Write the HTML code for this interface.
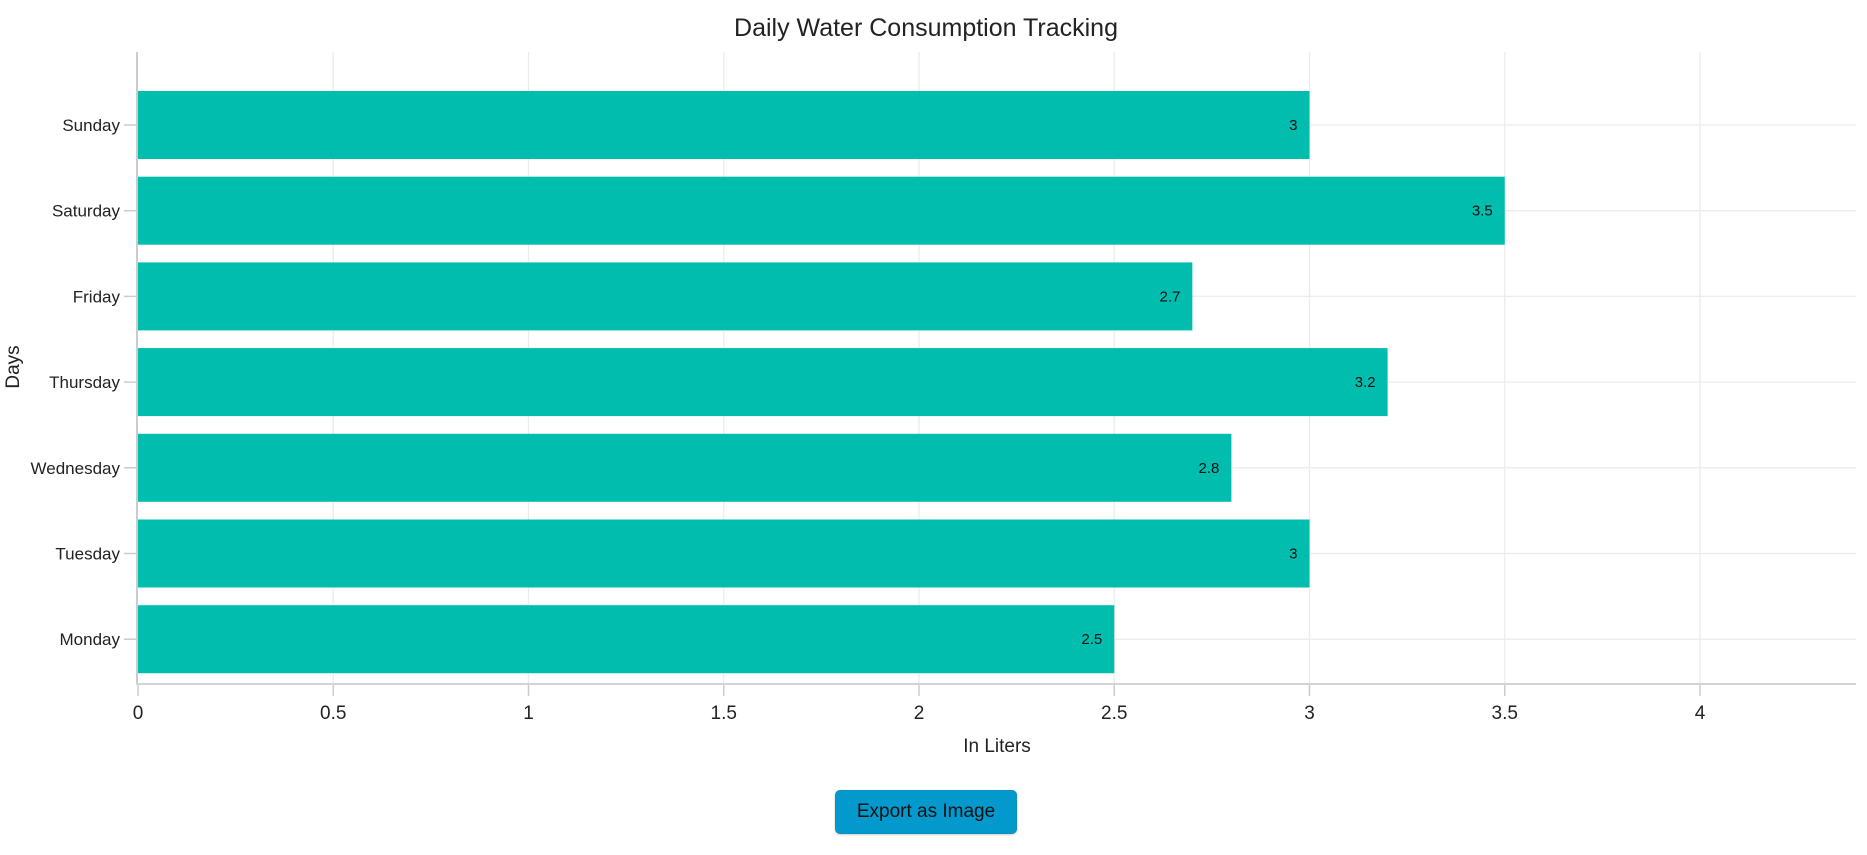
<!DOCTYPE html>
<html><head><meta charset="utf-8"><style>
html,body{margin:0;padding:0;background:#fff;width:1867px;height:855px;overflow:hidden;font-family:"Liberation Sans",sans-serif;}
#btn{position:absolute;left:835px;top:790px;width:182px;height:44px;background:#0399cc;border:1px solid #0a8fbf;border-radius:5px;box-sizing:border-box;color:#111;font-size:19px;line-height:42px;text-align:center;box-shadow:0 1px 2px rgba(0,0,0,.2);}
</style></head><body>
<svg id="chart" width="1867" height="855" style="position:absolute;left:0;top:0">
<text x="926" y="36" font-size="25" text-anchor="middle" fill="#222">Daily Water Consumption Tracking</text>
<g id="grid"></g><g id="bars"></g><g id="axes"></g>
<text x="997" y="752" font-size="19" text-anchor="middle" fill="#222">In Liters</text>
<text transform="translate(19,367) rotate(-90)" font-size="19" text-anchor="middle" fill="#222">Days</text>
</svg>
<div id="btn">Export as Image</div>
<script>
const days=["Sunday","Saturday","Friday","Thursday","Wednesday","Tuesday","Monday"];
const liters=[3,3.5,2.7,3.2,2.8,3,2.5];
const xTicks=[0,0.5,1,1.5,2,2.5,3,3.5,4];
const NS="http://www.w3.org/2000/svg";
const X0=138,UNIT=390.5,TOP=52,BOTTOM=684,RIGHT=1856,Y0=125,PITCH=85.7,BH=68;
const xs=v=>X0+v*UNIT, yc=i=>Y0+i*PITCH;
function mk(t,a,p){const e=document.createElementNS(NS,t);for(const k in a)e.setAttribute(k,a[k]);p.appendChild(e);return e;}
const grid=document.getElementById('grid'),bars=document.getElementById('bars'),axes=document.getElementById('axes');
xTicks.forEach(t=>{
 if(t>0){const g=mk('line',{x1:xs(t),x2:xs(t),y1:TOP,y2:BOTTOM,stroke:'#ececec','stroke-width':1.3},grid);
 
 }
 const tk=mk('line',{x1:xs(t),x2:xs(t),y1:BOTTOM,y2:BOTTOM+12,stroke:'#ccc','stroke-width':1.5},axes);
 
 
 const l=mk('text',{x:xs(t),y:BOTTOM+35,'font-size':19,'text-anchor':'middle',fill:'#222'},axes);l.textContent=t;
 
 
});
days.forEach((d,i)=>{
 const g=mk('line',{x1:X0,x2:RIGHT,y1:yc(i),y2:yc(i),stroke:'#ececec','stroke-width':1.3},grid);
 
 
 const r=mk('rect',{x:X0,y:yc(i)-BH/2,width:xs(liters[i])-X0,height:BH,fill:'#00bdae'},bars);
 
 
 const v=mk('text',{x:xs(liters[i])-12,y:yc(i)+5,'font-size':15,'text-anchor':'end',fill:'#111'},bars);v.textContent=liters[i];
 
 
 const tk=mk('line',{x1:124,x2:X0,y1:yc(i),y2:yc(i),stroke:'#ccc','stroke-width':1.5},axes);
 
 
 const l=mk('text',{x:120,y:yc(i)+6,'font-size':17,'text-anchor':'end',fill:'#222'},axes);l.textContent=d;
 
 
});
const ya=mk('line',{x1:X0-1,x2:X0-1,y1:TOP,y2:BOTTOM,stroke:'#ccc','stroke-width':2},axes);


const xa=mk('line',{x1:X0-2,x2:RIGHT,y1:BOTTOM,y2:BOTTOM,stroke:'#d4d4d4','stroke-width':2},axes);


</script>
</body></html>
